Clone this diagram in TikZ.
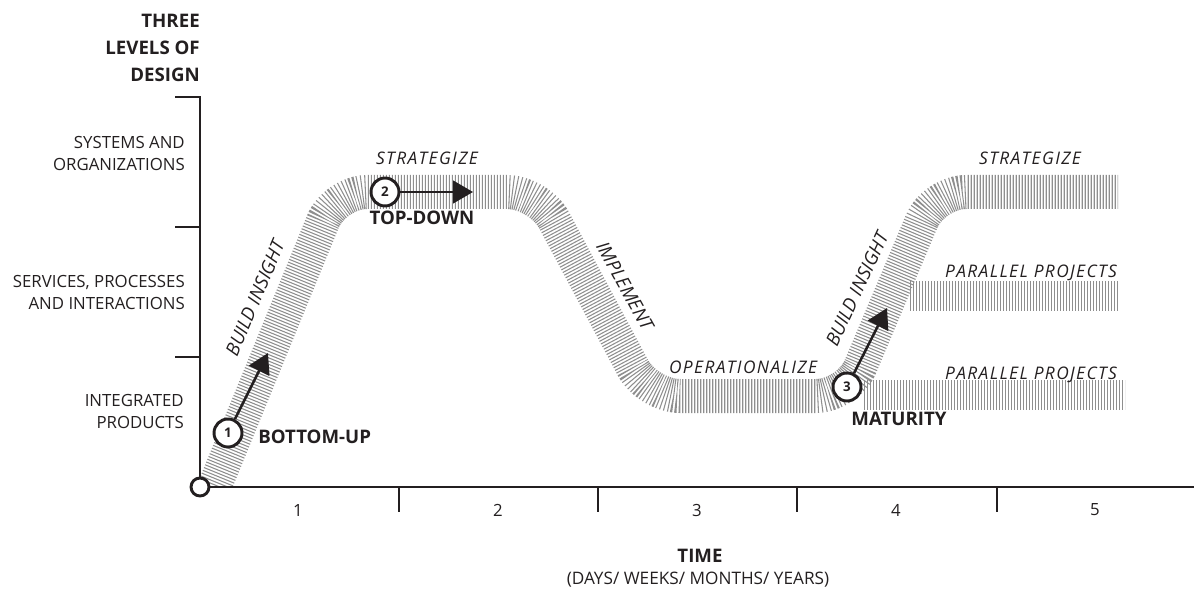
\documentclass[tikz,border=0pt]{standalone}
\usepackage{fontspec}
\setmainfont{Open Sans}
\usetikzlibrary{arrows.meta}
\definecolor{ink}{HTML}{231F20}
\definecolor{hatch}{HTML}{8E8E8E}
\begin{document}
\begin{tikzpicture}[x=0.75pt,y=-0.75pt,
  band/.style={draw=hatch, line width=25.5pt, dash pattern=on 0.8pt off 1.45pt, rounded corners=24pt},
  thinband/.style={draw=hatch, line width=23pt, dash pattern=on 0.8pt off 1.45pt},
  axis/.style={draw=ink, line width=1.5pt},
  lvl/.style={font=\fontsize{12.6}{16.5}\selectfont, text=ink, align=right, anchor=east, inner sep=0pt},
  head/.style={font=\bfseries\fontsize{14}{20}\selectfont, text=ink, align=right, anchor=east, inner sep=0pt},
  phase/.style={font=\itshape\fontsize{13}{15}\selectfont\addfontfeature{LetterSpace=8}, text=ink, inner sep=0pt},
  slanted/.style={font=\itshape\fontsize{14}{16}\selectfont, text=ink, inner sep=0pt},
  tag/.style={font=\bfseries\fontsize{14}{16}\selectfont, text=ink, inner sep=0pt},
  tick/.style={font=\fontsize{12.6}{14}\selectfont, text=ink, inner sep=0pt},
  num/.style={circle, draw=ink, line width=2.2pt, fill=white, minimum size=21pt, inner sep=0pt, font=\bfseries\fontsize{10}{12}\selectfont, text=ink},
  pointer/.style={draw=ink, line width=1.9pt, -{Triangle[length=15pt,width=17pt]}},
]
\useasboundingbox (0,0) rectangle (1194,591);

% hatched bands
\begin{scope}
  \clip (0,0) rectangle (1194,486);
  \draw[band] (207,505) -- (335,192) -- (539,192) -- (648,396) -- (848,396) -- (934,192) -- (1118,192);
\end{scope}
\draw[thinband] (910,296) -- (1118,296);
\draw[thinband] (864,395) -- (1125,395);

% axes
\draw[axis] (175,97) -- (200,97) -- (200,487) -- (1194,487);
\foreach \y in {227,357} \draw[axis] (175,\y) -- (200,\y);
\foreach \x in {399,598,797,997} \draw[axis] (\x,487) -- (\x,512);
\node[circle, draw=ink, line width=2.2pt, fill=white, minimum size=13.5pt, inner sep=0pt] (origin) at (200,487) {};

% axis labels
\node[head] (title) at (200,48) {THREE\\LEVELS OF\\DESIGN};
\node[lvl] (l3) at (185,153.5) {SYSTEMS AND\\ORGANIZATIONS};
\node[lvl] (l2) at (185,292.5) {SERVICES, PROCESSES\\AND INTERACTIONS};
\node[lvl] (l1) at (184,411) {INTEGRATED\\PRODUCTS};
\node[tick] (t1) at (298,510) {1};
\node[tick] (t2) at (498,510) {2};
\node[tick] (t3) at (697,510) {3};
\node[tick] (t4) at (896,510) {4};
\node[tick] (t5) at (1095,510) {5};
\node[tag] (time) at (700,556) {TIME};
\node[tick, font=\fontsize{12.9}{15}\selectfont] (timesub) at (698,580) {(DAYS/ WEEKS/ MONTHS/ YEARS)};

% phase labels
\node[phase] (s1) at (427,158) {STRATEGIZE};
\node[phase] (s2) at (1030,158) {STRATEGIZE};
\node[phase] (op) at (743,367) {OPERATIONALIZE};
\node[phase] (pp1) at (1031,273) {PARALLEL PROJECTS};
\node[phase] (pp2) at (1031,375) {PARALLEL PROJECTS};
\node[slanted, rotate=67] (bi1) at (255,298) {BUILD INSIGHT};
\node[slanted, rotate=65] (bi2) at (857,289) {BUILD INSIGHT};
\node[slanted, rotate=-61] (impl) at (625,286) {IMPLEMENT};

% steps
\node[num] (c1) at (228,433) {1};
\node[num] (c2) at (385,192) {2};
\node[num] (c3) at (847,387) {3};
\coordinate (a1) at (268,353);
\coordinate (a2) at (473,192);
\coordinate (a3) at (887,308);
\draw[pointer] (c1) -- (a1);
\draw[pointer] (c2) -- (a2);
\draw[pointer] (c3) -- (a3);
\node[tag, anchor=west] (bu) at (258,437) {BOTTOM-UP};
\node[tag] (td) at (422,218) {TOP-DOWN};
\node[tag] (mat) at (899,419) {MATURITY};
\end{tikzpicture}
\end{document}
